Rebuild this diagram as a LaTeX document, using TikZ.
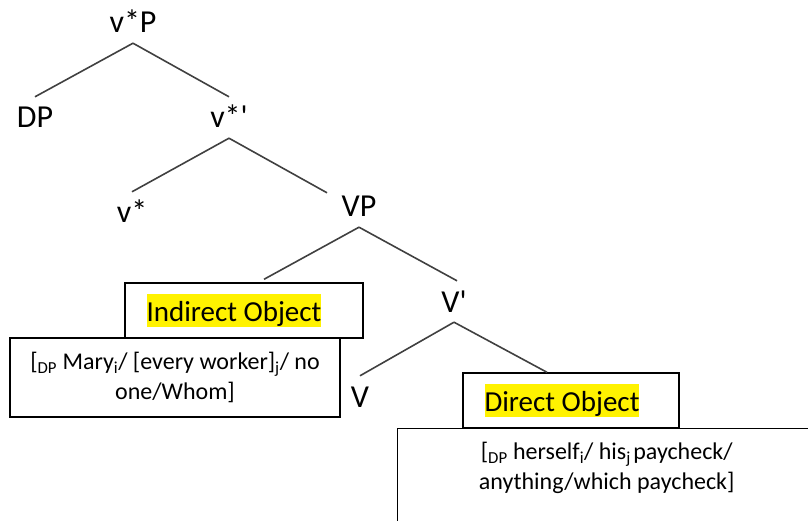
\documentclass[tikz,border=0pt]{standalone}
\usepackage{fontspec}
\setmainfont{Carlito}
\usepackage{tikz}
\usetikzlibrary{calc}
\usetikzlibrary{positioning}

\tikzset{
  lbl/.style={font=\fontsize{32}{36}\selectfont, text height=21pt, text depth=0pt,
              inner xsep=1pt, inner ysep=10pt, anchor=base},
  branch/.style={draw=black!75, line width=1.6pt},
  titlebox/.style={draw, line width=1.4pt, inner sep=0pt},
  objbox/.style={draw, line width=1.4pt, inner sep=0pt, align=center,
                 font=\fontsize{24}{30.5}\selectfont},
  hl/.style={fill=yellow, inner xsep=0pt, inner ysep=1pt, text height=26pt, text depth=5pt,
             font=\fontsize{29}{33}\selectfont}
}

\begin{document}
\begin{tikzpicture}[x=1pt,y=-1pt]
\useasboundingbox (0,0) rectangle (808,521);
\clip (0,0) rectangle (808,521);

% tree labels
\node[lbl] (vP)    at (133,33)  {v*P};
\node[lbl] (DP)    at (35,128)  {DP};
\node[lbl] (vbar)  at (229,128) {v*\textquotesingle};
\node[lbl] (vstar) at (132,223) {v*};
\node[lbl] (VP)    at (359,217) {VP};
\node[lbl] (Vbar)  at (454,312) {V\textquotesingle};
\node[lbl] (V)     at (360,407) {V};

% object boxes
\node[titlebox, minimum width=238pt, minimum height=55pt] (IO) at (244,310.5) {};
\node[hl] (IOtext) at ($(IO.center)+(-10,0)$) {Indirect Object};
\node[objbox, minimum width=330pt, minimum height=79pt] (Mary) at (175,377.5)
  {[\textsubscript{DP} Mary\textsubscript{i}/ [every worker]\textsubscript{j}/ no\\ one/Whom]};

\node[titlebox, minimum width=216pt, minimum height=55pt] (DO) at (571,400.5) {};
\node[hl] (DOtext) at ($(DO.center)+(-9,0)$) {Direct Object};
\node[objbox, minimum width=430pt, minimum height=140pt, anchor=north west] (DPbox) at (397,428) {};
\node[objbox, draw=none] (herself) at ($(DPbox.north)+(-6,40)$)
  {[\textsubscript{DP} herself\textsubscript{i}/ his\textsubscript{j}\hspace{2.5pt}paycheck/\\ anything/which paycheck]};

% branches
\draw[branch] (vP.south) -- (DP.north);
\draw[branch] (vP.south) -- (vbar.north);
\draw[branch] (vbar.south) -- (vstar.north);
\draw[branch] (vbar.south) -- ($(VP.north)+(-32,7)$);
\draw[branch] (VP.south) -- ($(IO.north)+(20,-3)$);
\draw[branch] (VP.south) -- ($(Vbar.north)+(3,0)$);
\draw[branch] (Vbar.south) -- (V.north);
\draw[branch] (Vbar.south) -- ($(DO.north)+(-24,0)$);

\end{tikzpicture}
\end{document}
